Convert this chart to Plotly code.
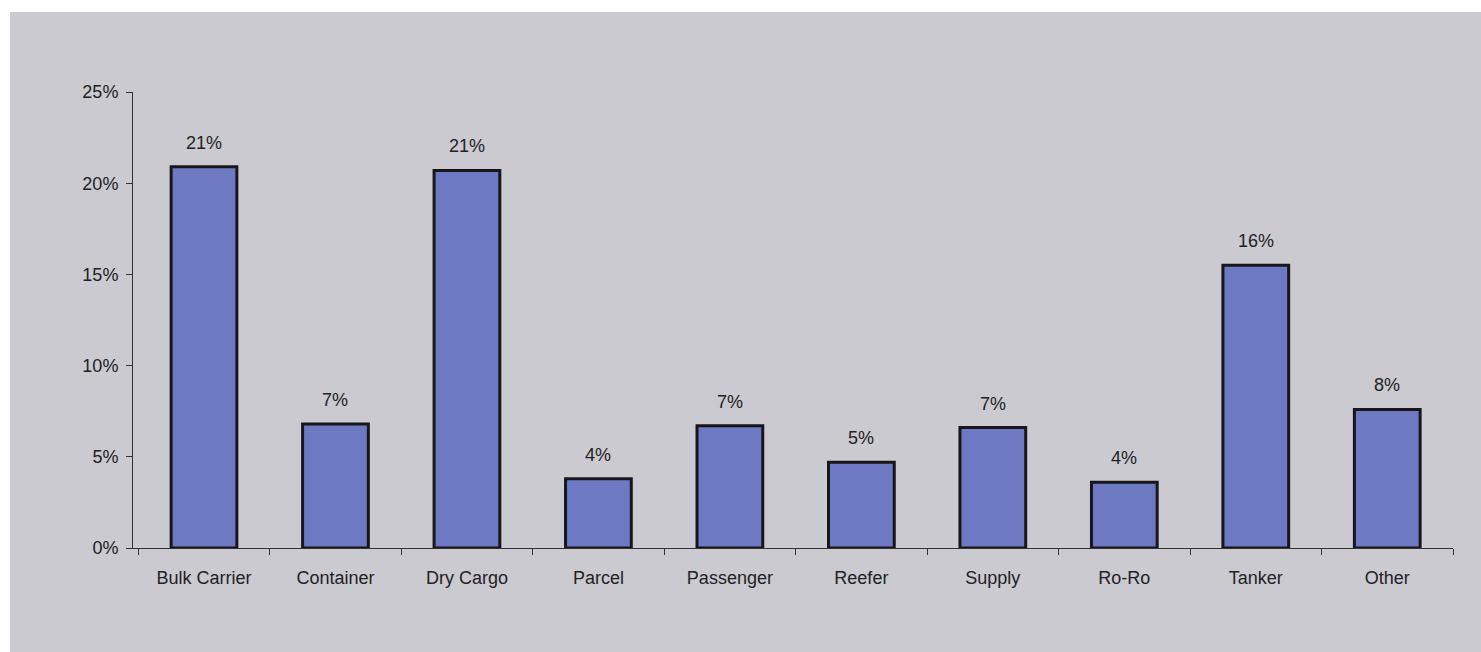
import plotly.graph_objects as go

categories = ["Bulk Carrier", "Container", "Dry Cargo", "Parcel", "Passenger",
              "Reefer", "Supply", "Ro-Ro", "Tanker", "Other"]
shares = [20.9, 6.8, 20.7, 3.8, 6.7, 4.7, 6.6, 3.6, 15.5, 7.6]
labels = ["21%", "7%", "21%", "4%", "7%", "5%", "7%", "4%", "16%", "8%"]
y_ticks = [0, 5, 10, 15, 20, 25]
y_tick_labels = ["0%", "5%", "10%", "15%", "20%", "25%"]

W, H = 1481, 652
ML, MR, MT, MB = 133, 28, 92, 104
PW, PH = W - ML - MR, H - MT - MB
bg = "#cbcad1"
fnt = "Liberation Sans, Arial"

fig = go.Figure()
fig.add_trace(go.Bar(
    x=categories, y=shares,
    marker=dict(color="#6e79c3", line=dict(color="#17161a", width=3)),
    hoverinfo="skip",
))
for c, v, t in zip(categories, shares, labels):
    fig.add_annotation(x=c, y=v, text=t, showarrow=False, yshift=24,
                       font=dict(family=fnt, size=18, color="#222"))

fig.update_layout(
    width=W, height=H,
    margin=dict(l=ML, r=MR, t=MT, b=MB),
    paper_bgcolor=bg, plot_bgcolor=bg,
    bargap=0.5, showlegend=False,
    font=dict(family=fnt, size=18, color="#222"),
    shapes=[
        dict(type="rect", xref="paper", yref="paper", x0=-0.2, x1=1.1,
             y0=1 + (MT - 12) / PH, y1=1.4,
             fillcolor="white", line=dict(width=0), layer="below"),
        dict(type="rect", xref="paper", yref="paper", x0=-0.2, x1=-(ML - 10) / PW,
             y0=-0.4, y1=1.4,
             fillcolor="white", line=dict(width=0), layer="below"),
    ],
)
fig.update_xaxes(
    range=[-0.54, 9.5],
    showline=True, linecolor="#333", linewidth=1, tickson="boundaries",
    ticks="outside", ticklen=6, tickcolor="#333", ticklabelstandoff=13,
    showgrid=False, tickfont=dict(size=18),
)
fig.update_yaxes(
    range=[0, 25], tickvals=y_ticks, ticktext=y_tick_labels,
    showline=True, linecolor="#333", linewidth=1, ticks="outside", ticklen=6,
    tickcolor="#333", ticklabelstandoff=4, showgrid=False, zeroline=False,
    tickfont=dict(size=18),
)
fig.write_html("out.html")
